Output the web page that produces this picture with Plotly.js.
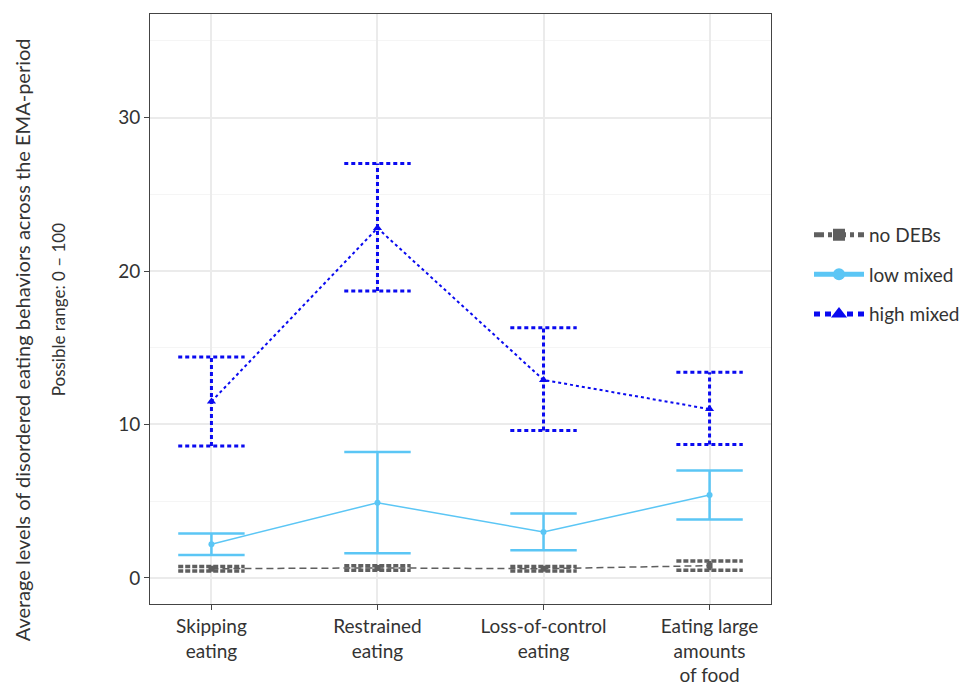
<!DOCTYPE html>
<html><head><meta charset="utf-8">
<script src="https://cdn.plot.ly/plotly-3.0.1.min.js"></script>
<style>body{margin:0;background:#fff}#chart{width:963px;height:686px}</style>
</head><body><div id="chart"></div>
<script>
const categories = ["Skipping<br>eating", "Restrained<br>eating", "Loss-of-control<br>eating", "Eating large<br>amounts<br>of food"];
const groups = ["no DEBs", "low mixed", "high mixed"];
const noDebMean = [0.6, 0.65, 0.6, 0.8];
const noDebLow  = [0.45, 0.5, 0.45, 0.5];
const noDebHigh = [0.75, 0.8, 0.75, 1.1];
const lowMean = [2.2, 4.9, 3.0, 5.4];
const lowLow  = [1.5, 1.6, 1.8, 3.8];
const lowHigh = [2.9, 8.2, 4.2, 7.0];
const highMean = [11.5, 22.8, 12.9, 11.0];
const highLow  = [8.6, 18.7, 9.6, 8.7];
const highHigh = [14.4, 27.0, 16.3, 13.4];
const yTickVals = [0, 10, 20, 30];
const yTitle1 = 'Average levels of disordered eating behaviors across the EMA-period';
const yTitle2 = 'Possible range: 0 – 100';

const xs = categories.map((c, i) => i);
const capHalf = 0.2;

function errTrace(lo, hi, color, width, dash, grp) {
  const x = [], y = [];
  xs.forEach((xi, i) => {
    x.push(xi, xi, null, xi - capHalf, xi + capHalf, null, xi - capHalf, xi + capHalf, null);
    y.push(lo[i], hi[i], null, lo[i], lo[i], null, hi[i], hi[i], null);
  });
  return {x, y, mode: 'lines', type: 'scatter', showlegend: false, hoverinfo: 'skip',
    legendgroup: grp, line: {color, width, dash}};
}

const gray = '#5f5f5f', light = '#5bc6f5', blue = '#0a0af0';
const data = [
  errTrace(noDebLow, noDebHigh, gray, 3.5, '5px,2px', 'g0'),
  errTrace(lowLow, lowHigh, light, 2.5, 'solid', 'g1'),
  errTrace(highLow, highHigh, blue, 3, '4px,3px', 'g2'),
  {x: xs, y: noDebMean, name: groups[0], mode: 'lines+markers', type: 'scatter', showlegend: false, legendgroup: 'g0',
   line: {color: gray, width: 1.5, dash: '7px,4px'}, marker: {symbol: 'square', size: 6, color: gray}},
  {x: xs, y: lowMean, name: groups[1], mode: 'lines+markers', type: 'scatter', showlegend: false, legendgroup: 'g1',
   line: {color: light, width: 1.5}, marker: {symbol: 'circle', size: 6, color: light}},
  {x: xs, y: highMean, name: groups[2], mode: 'lines+markers', type: 'scatter', showlegend: false, legendgroup: 'g2',
   line: {color: blue, width: 2, dash: '3px,3px'}, marker: {symbol: 'triangle-up', size: 8, color: blue}},
  // legend keys
  {x: [null], y: [null], name: groups[0], mode: 'lines+markers', type: 'scatter', legendgroup: 'g0',
   line: {color: gray, width: 5, dash: '10px,4px,4px,4px'}, marker: {symbol: 'square', size: 12, color: gray}},
  {x: [null], y: [null], name: groups[1], mode: 'lines+markers', type: 'scatter', legendgroup: 'g1',
   line: {color: light, width: 5}, marker: {symbol: 'circle', size: 12, color: light}},
  {x: [null], y: [null], name: groups[2], mode: 'lines+markers', type: 'scatter', legendgroup: 'g2',
   line: {color: blue, width: 5, dash: '6px,5px'}, marker: {symbol: 'triangle-up', size: 14, color: blue}}
];

const font = 'Lato, "Open Sans", sans-serif';
const txt = '#333';
const layout = {
  width: 963, height: 686,
  margin: {l: 150, r: 192, t: 14, b: 82, autoexpand: false},
  paper_bgcolor: '#fff', plot_bgcolor: '#fff',
  font: {family: font, size: 19, color: txt},
  xaxis: {
    range: [-0.37, 3.37], tickvals: xs, ticktext: categories,
    showgrid: true, gridcolor: '#ebebeb', gridwidth: 1.5, zeroline: false,
    showline: true, mirror: true, linecolor: '#444', linewidth: 1,
    ticks: 'outside', ticklen: 5, tickcolor: '#444',
    tickfont: {family: font, size: 19, color: txt}
  },
  yaxis: {
    range: [-1.7, 36.75], tickvals: yTickVals, ticktext: yTickVals.map(String),
    showgrid: true, gridcolor: '#ebebeb', gridwidth: 1.5, zeroline: false,
    minor: {tickvals: [5, 15, 25, 35], showgrid: true, gridcolor: '#f5f5f5', gridwidth: 1, ticks: ''},
    showline: true, mirror: true, linecolor: '#444', linewidth: 1,
    ticks: 'outside', ticklen: 5, tickcolor: '#444',
    tickfont: {family: font, size: 19, color: txt}
  },
  annotations: [
    {text: yTitle1, textangle: -90, xref: 'paper', yref: 'paper', x: -0.206, y: 0.447,
     xanchor: 'center', yanchor: 'middle', showarrow: false, font: {family: font, size: 20, color: txt}},
    {text: yTitle2, textangle: -90, xref: 'paper', yref: 'paper', x: -0.148, y: 0.498,
     xanchor: 'center', yanchor: 'middle', showarrow: false, font: {family: font, size: 17, color: txt}}
  ],
  legend: {x: (809 - 150) / 621, y: 0.558, xanchor: 'left', yanchor: 'middle', itemwidth: 50,
           font: {family: font, size: 19, color: txt}, tracegroupgap: 12},
  showlegend: true
};
Plotly.newPlot('chart', data, layout, {displayModeBar: false});
</script></body></html>
